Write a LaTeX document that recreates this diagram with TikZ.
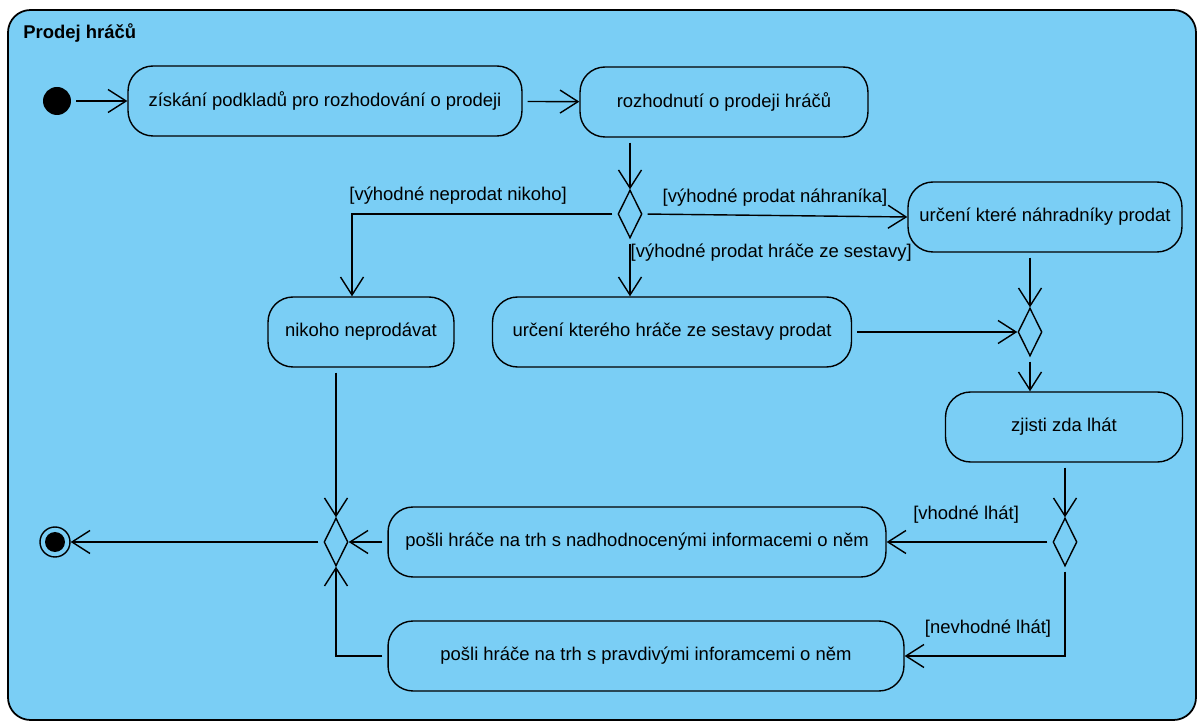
\documentclass[tikz,border=0pt]{standalone}
\usepackage{fontspec}
\setmainfont{Liberation Sans}
\usetikzlibrary{arrows.meta,shapes.geometric}
\definecolor{actfill}{RGB}{122,206,245}

\begin{document}
\begin{tikzpicture}[x=0.02cm, y=-0.02cm,
          act/.style={draw, line width=0.8pt, rounded corners=0.5cm, fill=actfill, minimum height=1.4cm, align=center, font=\fontsize{10.5}{12}\selectfont},
          choice/.style={draw, diamond, line width=0.8pt, fill=actfill, minimum width=0.48cm, minimum height=0.96cm, inner sep=0pt},
          flow/.style={-{Straight Barb[length=0.36cm,width=0.46cm]}, line width=0.8pt, shorten <=0.1cm},
          guard/.style={font=\fontsize{10.5}{12}\selectfont, inner sep=2pt}
        ]
          \useasboundingbox (0,0) rectangle (1198,722);
          \draw[line width=1pt, rounded corners=0.45cm, fill=actfill] (8,10) rectangle (1196,720);
          \node[anchor=west, font=\fontsize{10.5}{12}\selectfont\bfseries, inner sep=0pt] (title) at (23,33) {Prodej hráčů};

          \node[circle, fill=black, minimum size=0.56cm, inner sep=0pt] (start) at (57,101) {};
          \node[act, minimum width=7.88cm] (podklady) at (325,101) {získání podkladů pro rozhodování o prodeji};
          \node[act, minimum width=5.76cm] (rozhodnuti) at (724,102) {rozhodnutí o prodeji hráčů};
          \node[choice] (volba) at (630,214) {};
          \node[act, minimum width=5.48cm] (nahradnici) at (1045,217) {určení které náhradníky prodat};
          \node[act, minimum width=3.72cm] (nikoho) at (361,332) {nikoho neprodávat};
          \node[act, minimum width=7.18cm] (sestava) at (672,332) {určení kterého hráče ze sestavy prodat};
          \node[choice] (spojeni) at (1030,332) {};
          \node[act, minimum width=4.74cm] (lhat) at (1064,427) {zjisti zda lhát};
          \node[choice] (volbaLhat) at (1065,542) {};
          \node[act, minimum width=9.96cm] (nadhodnoceno) at (637,542) {pošli hráče na trh s nadhodnocenými informacemi o něm};
          \node[act, minimum width=10.32cm] (pravdive) at (646,656) {pošli hráče na trh s pravdivými inforamcemi o něm};
          \node[choice] (konecSpoj) at (336,542) {};
          \node[circle, draw, line width=0.8pt, minimum size=0.6cm, inner sep=0pt] (end) at (55,542) {};
          \node[circle, fill=black, minimum size=0.4cm, inner sep=0pt] (endDot) at (end) {};

          \draw[flow] (start) -- (podklady);
          \draw[flow] (podklady) -- (rozhodnuti);
          \draw[flow] (rozhodnuti.south -| volba) -- (volba.north);
          \draw[flow] (volba.west) -| node[guard, pos=0.3, above=3pt] {[výhodné neprodat nikoho]} ([xshift=-0.18cm]nikoho.north);
          \draw[flow] (volba.east) -- node[guard, above=3pt] {[výhodné prodat náhraníka]} (nahradnici.west);
          \draw[flow] (volba.south) -- node[guard, pos=0.25, anchor=west, inner sep=0pt] {[výhodné prodat hráče ze sestavy]} (volba.south |- sestava.north);
          \draw[flow] (nahradnici.south -| spojeni) -- (spojeni.north);
          \draw[flow] (sestava.east) -- (spojeni.west);
          \draw[flow] (spojeni.south) -- (spojeni.south |- lhat.north);
          \draw[flow] (lhat.south -| volbaLhat) -- (volbaLhat.north);
          \draw[flow] (volbaLhat.west) -- node[guard, pos=0.52, above=8pt] {[vhodné lhát]} (nadhodnoceno.east);
          \draw[flow] (volbaLhat.south) |- node[guard, pos=0.74, above=8pt] {[nevhodné lhát]} (pravdive.east);
          \draw[flow] (nikoho.south -| konecSpoj) -- (konecSpoj.north);
          \draw[flow] (nadhodnoceno.west) -- (konecSpoj.east);
          \draw[flow] (pravdive.west) -| (konecSpoj.south);
          \draw[flow] (konecSpoj.west) -- (end);
        \end{tikzpicture}
\end{document}
